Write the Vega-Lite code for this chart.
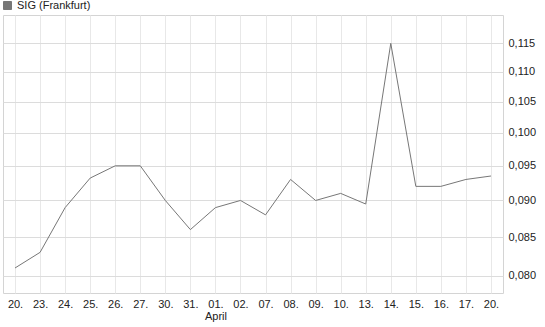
{
  "$schema": "https://vega.github.io/schema/vega-lite/v6.json",
  "width": 500,
  "height": 278,
  "autosize": {"type": "none"},
  "padding": {"left": 3, "top": 15, "right": 42, "bottom": 34},
  "config": {
    "font": "Liberation Sans",
    "view": {"stroke": "#d4d4d4", "strokeWidth": 1},
    "axis": {"labelFont": "Liberation Sans", "labelFontSize": 11, "labelColor": "#222", "gridColor": "#e8e8e8", "gridWidth": 1, "domain": false, "ticks": false, "title": null}
  },
  "data": {
    "values": [
      {"date": "2015-03-20", "series": "SIG (Frankfurt)", "price": 0.081},
      {"date": "2015-03-23", "series": "SIG (Frankfurt)", "price": 0.083},
      {"date": "2015-03-24", "series": "SIG (Frankfurt)", "price": 0.089},
      {"date": "2015-03-25", "series": "SIG (Frankfurt)", "price": 0.0932},
      {"date": "2015-03-26", "series": "SIG (Frankfurt)", "price": 0.095},
      {"date": "2015-03-27", "series": "SIG (Frankfurt)", "price": 0.095},
      {"date": "2015-03-30", "series": "SIG (Frankfurt)", "price": 0.090},
      {"date": "2015-03-31", "series": "SIG (Frankfurt)", "price": 0.086},
      {"date": "2015-04-01", "series": "SIG (Frankfurt)", "price": 0.089},
      {"date": "2015-04-02", "series": "SIG (Frankfurt)", "price": 0.090},
      {"date": "2015-04-07", "series": "SIG (Frankfurt)", "price": 0.088},
      {"date": "2015-04-08", "series": "SIG (Frankfurt)", "price": 0.093},
      {"date": "2015-04-09", "series": "SIG (Frankfurt)", "price": 0.090},
      {"date": "2015-04-10", "series": "SIG (Frankfurt)", "price": 0.091},
      {"date": "2015-04-13", "series": "SIG (Frankfurt)", "price": 0.0895},
      {"date": "2015-04-14", "series": "SIG (Frankfurt)", "price": 0.115},
      {"date": "2015-04-15", "series": "SIG (Frankfurt)", "price": 0.092},
      {"date": "2015-04-16", "series": "SIG (Frankfurt)", "price": 0.092},
      {"date": "2015-04-17", "series": "SIG (Frankfurt)", "price": 0.093},
      {"date": "2015-04-20", "series": "SIG (Frankfurt)", "price": 0.0935}
    ]
  },
  "mark": {"type": "line", "strokeWidth": 1, "interpolate": "linear"},
  "encoding": {
    "x": {
      "field": "date",
      "type": "ordinal",
      "scale": {"type": "point", "padding": 0.48},
      "axis": {
        "labelAngle": 0,
        "labelPadding": 5,
        "grid": true,
        "labelLineHeight": 12,
        "labelBaseline": "top",
        "labelExpr": "datum.value == '2015-04-01' ? ['01.', 'April'] : slice(datum.value, 8) + '.'"
      }
    },
    "y": {
      "field": "price",
      "type": "quantitative",
      "scale": {"type": "log", "domain": [0.0779, 0.1202], "nice": false, "zero": false},
      "axis": {
        "orient": "right",
        "values": [0.08, 0.085, 0.09, 0.095, 0.1, 0.105, 0.11, 0.115],
        "labelPadding": 5,
        "grid": true,
        "gridColor": "#dcdcdc",
        "labelExpr": "replace(format(datum.value, '.3f'), '.', ',')"
      }
    },
    "color": {
      "field": "series",
      "type": "nominal",
      "scale": {"range": ["#777777"]},
      "legend": {
        "title": null,
        "orient": "none",
        "legendX": -1,
        "legendY": -15,
        "symbolType": "square",
        "symbolSize": 64,
        "symbolFillColor": "#777777",
        "symbolStrokeColor": "#333333",
        "symbolStrokeWidth": 1,
        "labelFontSize": 11,
        "labelColor": "#222",
        "labelFont": "Liberation Sans",
        "labelOffset": 4,
        "padding": 0
      }
    }
  }
}
